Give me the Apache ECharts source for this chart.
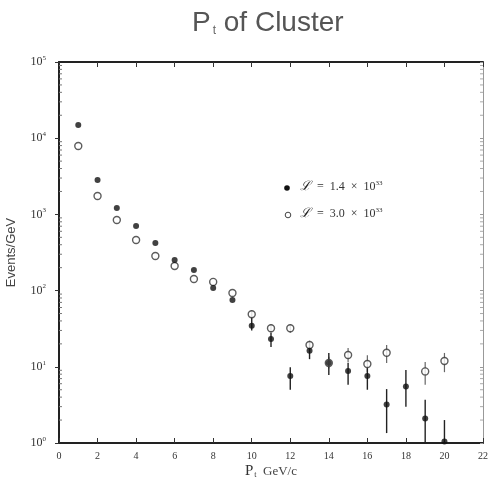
<!DOCTYPE html>
<html>
<head>
<meta charset="utf-8">
<script src="https://cdn.jsdelivr.net/npm/echarts@6/dist/echarts.min.js"></script>
<style>html,body{margin:0;padding:0;background:#fff;}#c{width:489px;height:478px;}</style>
</head>
<body>
<div id="c"></div>
<script>
// Data
const ptValues = [1,2,3,4,5,6,7,8,9,10,11,12,13,14,15,16,17,18,19,20];
const filledEvents = [14900,2830,1213,705,421,252,186,108,75,34.6,23.2,7.6,16.3,11.2,8.8,7.6,3.2,5.5,2.1,1.05];
const filledErrHigh = [null,null,null,null,null,null,null,null,null,45,27.8,9.9,21.2,15.2,11.2,9.6,5.1,9.1,3.7,2.0];
const filledErrLow  = [null,null,null,null,null,null,null,null,null,30,18.2,5.0,12.6,7.8,5.8,5.0,1.35,3.0,1.0,1.0];
const openEvents = [7900,1740,845,461,285,210,142,130,93,49,32,32,19.3,11.2,14.3,10.9,15.3,null,8.7,11.9];
const openErrHigh = [null,null,null,null,null,null,null,null,null,55,36,36,22,13.5,17.7,14.2,19.3,null,11.6,15.2];
const openErrLow  = [null,null,null,null,null,null,null,null,null,44,28,28,17,9.5,11.4,8.5,11.2,null,5.8,8.5];
const xTicks = [0,2,4,6,8,10,12,14,16,18,20,22];
const legendLabels = ['1.4', '3.0'];

const serif = '"Liberation Serif", "DejaVu Serif", serif';
const sans = '"Liberation Sans", "DejaVu Sans", sans-serif';

function pairs(xs, ys) { return xs.map((x, i) => [x, ys[i]]).filter(p => p[1] != null); }
function errData(lo, hi) {
  return ptValues.map((x, i) => [x, lo[i], hi[i]]).filter(p => p[1] != null && p[2] != null);
}
function errRender(color, width) {
  return function (params, api) {
    const x = api.value(0);
    const a = api.coord([x, api.value(1)]);
    const b = api.coord([x, api.value(2)]);
    return { type: 'line', shape: { x1: a[0], y1: a[1], x2: b[0], y2: b[1] },
      style: { stroke: color, lineWidth: width } };
  };
}
// log minor ticks
const minorVals = [];
for (let d = 0; d < 5; d++) for (let m = 2; m <= 9; m++) minorVals.push(m * Math.pow(10, d));
function minorTickRender(xVal, dir, color) {
  return function (params, api) {
    const p = api.coord([xVal, api.value(1)]);
    return { type: 'line', shape: { x1: p[0], y1: p[1], x2: p[0] + dir * 3, y2: p[1] },
      style: { stroke: color, lineWidth: 1 } };
  };
}
const legendRich = {
  i: { fontSize: 13, fontFamily: serif, fontStyle: 'italic', fill: '#222' },
  t: { fontSize: 12, fontFamily: serif, fill: '#333' },
  e: { fontSize: 7, fontFamily: serif, fill: '#333', verticalAlign: 'top', padding: [0,0,7,0] }
};

const chart = echarts.init(document.getElementById('c'));
chart.setOption({
  animation: false,
  backgroundColor: '#fff',
  grid: { left: 59, right: 6, top: 62, bottom: 35, containLabel: false, outerBoundsMode: 'none' },
  xAxis: [{
    type: 'value', min: 0, max: 22, interval: 2,
    axisLine: { show: true, onZero: false, lineStyle: { color: '#222', width: 2 } },
    axisTick: { show: true, inside: true, length: 5, lineStyle: { color: '#333', width: 1 } },
    axisLabel: { color: '#333', fontSize: 10, fontFamily: serif, margin: 8,
      formatter: v => xTicks.includes(v) ? String(v) : '' },
    splitLine: { show: false },
    name: '{p|P}{s|t}{g|  GeV/c}', nameLocation: 'middle', nameGap: 21, nameMoveOverlap: false,
    nameTextStyle: { rich: {
      p: { fontSize: 15, fontFamily: serif, color: '#333' },
      s: { fontSize: 8, fontFamily: serif, color: '#333', verticalAlign: 'bottom', padding: [6,0,0,1] },
      g: { fontSize: 13, fontFamily: serif, color: '#444' } } }
  }, {
    type: 'value', min: 0, max: 22, interval: 2, position: 'top',
    axisLine: { show: true, onZero: false, lineStyle: { color: '#222', width: 2 } },
    axisTick: { show: true, inside: true, length: 5, lineStyle: { color: '#333' } },
    axisLabel: { show: false }, splitLine: { show: false }
  }],
  yAxis: [{
    type: 'log', logBase: 10, min: 1, max: 100000,
    axisLine: { show: true, onZero: false, lineStyle: { color: '#222', width: 2 } },
    axisTick: { show: true, inside: false, length: 4, lineStyle: { color: '#333' } },
    axisLabel: { margin: 13, formatter: v => '{b|10}{e|' + Math.round(Math.log10(v)) + '}',
      rich: { b: { fontSize: 12, fontFamily: serif, color: '#333' },
              e: { fontSize: 7, fontFamily: serif, color: '#333', verticalAlign: 'top', padding: [0,0,8,0] } } },
    splitLine: { show: false },
    name: 'Events/GeV', nameLocation: 'middle', nameGap: 41, nameRotate: 90, nameMoveOverlap: false,
    nameTextStyle: { fontSize: 13, fontFamily: sans, color: '#444' }
  }, {
    type: 'log', logBase: 10, min: 1, max: 100000, position: 'right',
    axisLine: { show: true, onZero: false, lineStyle: { color: '#999', width: 1 } },
    axisTick: { show: true, inside: true, length: 3, lineStyle: { color: '#999' } },
    axisLabel: { show: false }, splitLine: { show: false }
  }],
  graphic: [
    { type: 'text', left: 192, top: 9, style: { text: '{p|P}{s|t}{o| of Cluster}',
      rich: { p: { fontSize: 28, fontFamily: sans, fill: '#555' },
              s: { fontSize: 12, fontFamily: sans, fill: '#666', verticalAlign: 'bottom', padding: [14,0,0,2] },
              o: { fontSize: 28, fontFamily: sans, fill: '#555' } } } },
    { type: 'circle', shape: { cx: 287, cy: 188, r: 2.8 }, style: { fill: '#111' } },
    { type: 'text', left: 300, top: 180, style: { text: '{i|ℒ}{t|  =  ' + legendLabels[0] + '  ×  10}{e|33}', rich: legendRich } },
    { type: 'circle', shape: { cx: 288, cy: 215, r: 2.8 }, style: { fill: '#fff', stroke: '#444', lineWidth: 1 } },
    { type: 'text', left: 300, top: 207, style: { text: '{i|ℒ}{t|  =  ' + legendLabels[1] + '  ×  10}{e|33}', rich: legendRich } }
  ],
  series: [
    { type: 'custom', silent: true, data: minorVals.map(v => [0, v]),
      renderItem: minorTickRender(0, 1, '#777'), z: 1 },
    { type: 'custom', silent: true, data: minorVals.map(v => [22, v]),
      renderItem: minorTickRender(22, -1, '#aaa'), z: 1 },
    { type: 'custom', silent: true, data: errData(openErrLow, openErrHigh),
      renderItem: errRender('#666', 1.2), z: 2 },
    { type: 'custom', silent: true, data: errData(filledErrLow, filledErrHigh),
      renderItem: errRender('#222', 1.4), z: 2 },
    { type: 'scatter', name: 'open', data: pairs(ptValues, openEvents), symbol: 'circle', symbolSize: 7,
      itemStyle: { color: '#fff', borderColor: '#333', borderWidth: 1.4 }, z: 3 },
    { type: 'scatter', name: 'filled', data: pairs(ptValues, filledEvents), symbol: 'circle', symbolSize: 6,
      itemStyle: { color: '#111' }, z: 4 }
  ]
});
</script>
</body>
</html>
